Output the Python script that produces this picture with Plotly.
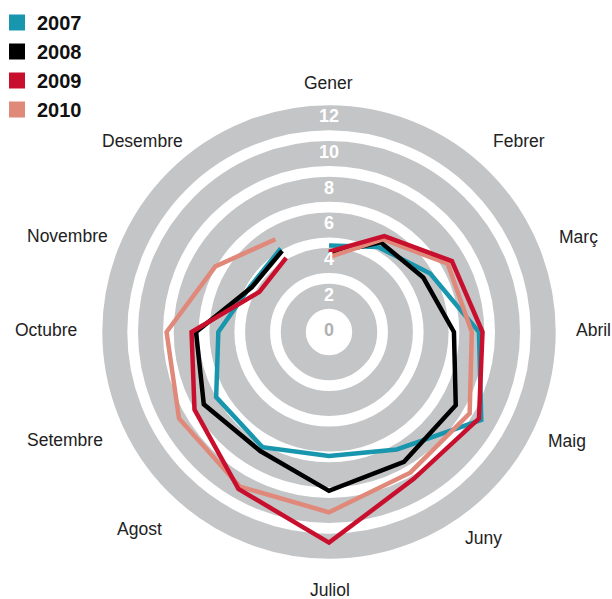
import plotly.graph_objects as go

# Meses (eix angular)
meses = ["Gener", "Febrer", "Març", "Abril", "Maig", "Juny",
         "Juliol", "Agost", "Setembre", "Octubre", "Novembre", "Desembre"]

# Valors per any
v2007 = [4.85, 5.5, 6.55, 8.4, 9.85, 7.6, 6.95, 7.45, 7.3, 6.2, 5.1, 5.4]
v2008 = [4.4, 5.8, 6.1, 7.0, 8.2, 8.4, 8.9, 7.7, 8.1, 7.45, 5.0, 5.25]
v2009 = [4.5, 6.2, 7.95, 8.6, 9.7, 9.5, 11.8, 10.15, 8.7, 7.7, 4.5, 4.8]
v2010 = [4.2, 6.0, 7.67, 8.0, 9.1, 9.1, 10.1, 10.0, 9.7, 9.1, 7.35, 6.0]

anys = ["2007", "2008", "2009", "2010"]
cores = ["#1796ae", "#000000", "#c8102e", "#e0887a"]

# Marques de l'eix radial
ticks_r = [0, 2, 4, 6, 8, 10, 12]

# Posicions (px) de les etiquetes dels mesos a la imatge original
label_x = [328, 519, 578, 593, 567, 483, 330, 139, 65, 46, 67, 142]
label_y = [83, 141, 237, 330, 441, 538, 590, 529, 440, 330, 236, 141]

W, H = 612, 599
fig = go.Figure()

series = dict(zip(anys, [v2007, v2008, v2009, v2010]))
cor = dict(zip(anys, cores))

# Linhas (ordem de desenho: vermelho por cima)
for ano in ["2007", "2008", "2010", "2009"]:
    fig.add_trace(go.Scatterpolar(
        r=series[ano], theta=meses, mode="lines",
        line=dict(color=cor[ano], width=4.5),
        showlegend=False, hoverinfo="skip",
    ))

# Legenda com quadrados
for i, ano in enumerate(anys):
    fig.add_trace(go.Scatterpolar(
        r=[None], theta=[None], mode="markers", name=ano,
        marker=dict(symbol="square", size=18, color=cor[ano]),
        legendgroup=ano, legendrank=i,
    ))

# Etiquetes de l'eix radial
fig.add_trace(go.Scatterpolar(
    r=ticks_r, theta=["Gener"] * len(ticks_r), mode="text",
    text=[str(t) for t in ticks_r],
    textfont=dict(family="Liberation Sans, Arial", size=18,
                  color=["#b0b1b3"] + ["white"] * (len(ticks_r) - 1),
                  weight="bold"),
    showlegend=False, hoverinfo="skip",
))

R = 12.8
pxu = 17.85
cx, cy = 329, 332
rad = R * pxu

fig.update_layout(
    width=W, height=H,
    margin=dict(l=0, r=0, t=0, b=0, autoexpand=False),
    paper_bgcolor="white",
    font=dict(family="Liberation Sans, Arial", color="#222"),
    polar=dict(
        domain=dict(x=[(cx - rad) / W, (cx + rad) / W],
                    y=[(H - cy - rad) / H, (H - cy + rad) / H]),
        bgcolor="white",
        radialaxis=dict(range=[0, R], tickvals=ticks_r[1:], showticklabels=False,
                        ticks="", showline=False, gridcolor="#c4c5c7", gridwidth=25),
        angularaxis=dict(categoryorder="array", categoryarray=meses,
                         rotation=90, direction="clockwise",
                         showticklabels=False, ticks="", showline=False,
                         showgrid=False),
    ),
    legend=dict(x=-3 / W, y=1 - 3 / H, xanchor="left", yanchor="top",
                font=dict(size=20, color="#111", weight="bold"),
                tracegroupgap=0, bgcolor="rgba(0,0,0,0)"),
)

for m, lx, ly in zip(meses, label_x, label_y):
    fig.add_annotation(x=lx / W, y=1 - ly / H, xref="paper", yref="paper",
                       text=m, showarrow=False, xanchor="center", yanchor="middle",
                       font=dict(size=17.5, color="#222"))

fig.write_html("out.html", config={"displayModeBar": False},
               post_script="document.body.style.margin='0px';")
